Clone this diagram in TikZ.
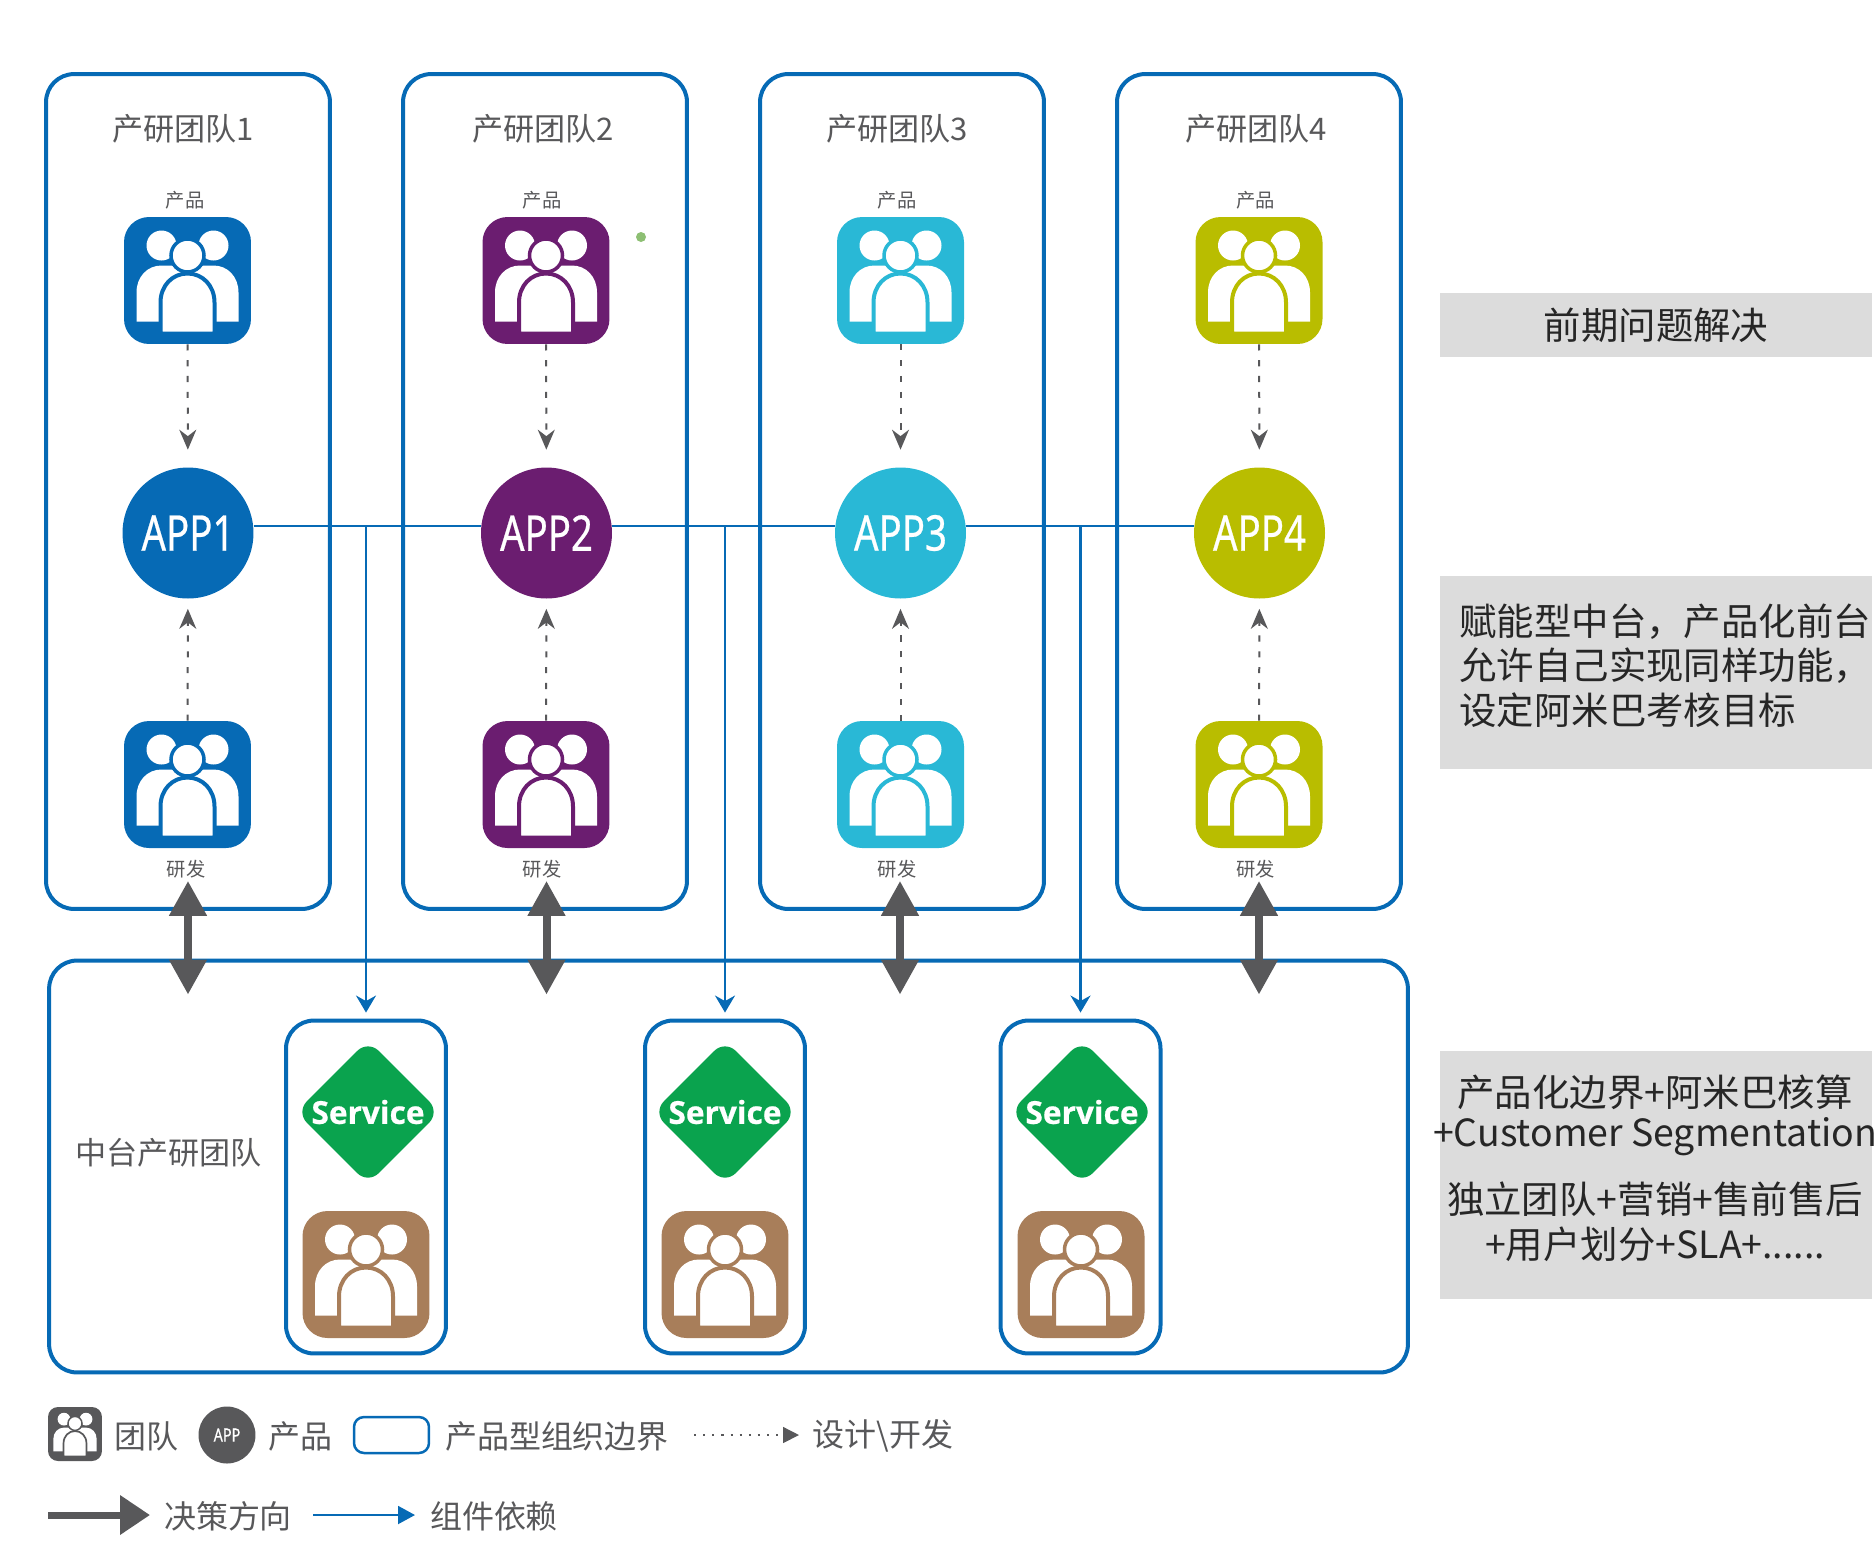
\documentclass[tikz,border=0pt]{standalone}
\usepackage{fontspec}
\setmainfont{Noto Sans CJK SC}
\newfontfamily\appfont[FakeStretch=0.78,FakeBold=0.5]{Noto Sans}
\newfontfamily\svcfont[BoldFeatures={FakeBold=0.6}]{Open Sans}
\definecolor{orgblue}{RGB}{6,106,181}
\definecolor{apppurple}{RGB}{107,29,112}
\definecolor{appteal}{RGB}{41,184,214}
\definecolor{applime}{RGB}{185,189,0}
\definecolor{svcbrown}{RGB}{168,126,90}
\definecolor{svcgreen}{RGB}{10,163,78}
\definecolor{inkgray}{RGB}{88,88,90}
\definecolor{notegray}{RGB}{220,220,220}
\definecolor{dotgreen}{RGB}{141,191,115}
\usetikzlibrary{positioning, arrows.meta, calc, shapes.geometric}
\newcommand{\teamfig}[2]{%
  \begin{scope}[shift={(path picture bounding box.center)}, x=#2, y=-#2, sharp corners]
    \fill[white] (-26,-35) ellipse (15 and 15) (26,-35) ellipse (15 and 15);
    \fill[white] (-51,41) -- (-51,12) .. controls (-51,-4) and (-40,-15) .. (-26,-15) -- (26,-15) .. controls (40,-15) and (51,-4) .. (51,12) -- (51,41) -- cycle;
    \draw[#1, fill=white, line width=3.5*#2] (0,-25) ellipse (16.5 and 16.5);
    \draw[#1, fill=white, line width=4*#2] (-27,53) -- (-27,22) .. controls (-27,5) and (-15,-7) .. (0,-7) .. controls (15,-7) and (27,5) .. (27,22) -- (27,53) -- cycle;
  \end{scope}}
\tikzset{
  teamicon/.style={rectangle, fill=#1, rounded corners=0.5cm, minimum size=2.54cm, inner sep=0, path picture={\teamfig{#1}{0.02cm}}},
  legendicon/.style={rectangle, fill=#1, rounded corners=0.2cm, minimum size=1.08cm, inner sep=0, path picture={\teamfig{#1}{0.0085cm}}},
  appdot/.style={circle, fill=#1, minimum size=2.62cm, inner sep=0, text=white, font=\appfont\fontsize{28}{30}\selectfont},
  orgbox/.style={rectangle, draw=orgblue, line width=0.08cm, rounded corners=0.56cm, inner sep=0},
  svcgem/.style={diamond, aspect=1, fill=svcgreen, rounded corners=0.3cm, minimum size=2.88cm, inner sep=0, text=white, font=\svcfont\bfseries\fontsize{18}{20}\selectfont},
  notebox/.style={rectangle, fill=notegray, minimum width=8.64cm, inner sep=0},
  notetext/.style={text=black!85, font=\fontsize{21.3}{26}\selectfont, inner sep=0},
  titletext/.style={text=inkgray, font=\fontsize{17.7}{21}\selectfont, inner sep=0},
  roletext/.style={text=inkgray, font=\fontsize{11}{13}\selectfont, inner sep=0},
  legendtext/.style={text=inkgray, font=\fontsize{18.2}{20}\selectfont, inner sep=0},
  designwire/.style={-{Stealth[length=0.4cm, width=0.34cm]}, inkgray, line width=0.04cm, dash pattern=on 3.5pt off 5.5pt},
  depwire/.style={-{Stealth[length=0.34cm, width=0.4cm]}, orgblue, line width=0.045cm},
  decidewire/.style={{Triangle[length=0.7cm, width=0.72cm]}-{Triangle[length=0.7cm, width=0.72cm]}, inkgray, line width=0.16cm}
}
\begin{document}
\begin{tikzpicture}[x=0.02cm, y=-0.02cm]
  \useasboundingbox (0,0) rectangle (1875,1566);
  % product teams
  \node[orgbox, minimum width=5.68cm, minimum height=16.7cm] (team1) at (188,491.5) {};
  \node[orgbox, minimum width=5.68cm, minimum height=16.7cm] (team2) at (545,491.5) {};
  \node[orgbox, minimum width=5.68cm, minimum height=16.7cm] (team3) at (902,491.5) {};
  \node[orgbox, minimum width=5.68cm, minimum height=16.7cm] (team4) at (1259,491.5) {};
  \node[titletext] (title1) at (183,129) {产研团队1};
  \node[titletext] (title2) at (543,129) {产研团队2};
  \node[titletext] (title3) at (897,129) {产研团队3};
  \node[titletext] (title4) at (1256,129) {产研团队4};
  \node[roletext] (prodlabel1) at (185,200) {产品};
  \node[roletext] (prodlabel2) at (542,200) {产品};
  \node[roletext] (prodlabel3) at (897,200) {产品};
  \node[roletext] (prodlabel4) at (1255.5,200) {产品};
  \node[teamicon=orgblue] (prod1) at (187.5,280.5) {};
  \node[teamicon=apppurple] (prod2) at (546,280.5) {};
  \node[teamicon=appteal] (prod3) at (900.5,280.5) {};
  \node[teamicon=applime] (prod4) at (1259,280.5) {};
  \node[appdot=orgblue] (app1) at (188,533) {APP1};
  \node[appdot=apppurple] (app2) at (546.5,533) {APP2};
  \node[appdot=appteal] (app3) at (900.5,533) {APP3};
  \node[appdot=applime] (app4) at (1259.5,533) {APP4};
  \node[teamicon=orgblue] (dev1) at (187.5,784.5) {};
  \node[teamicon=apppurple] (dev2) at (546,784.5) {};
  \node[teamicon=appteal] (dev3) at (900.5,784.5) {};
  \node[teamicon=applime] (dev4) at (1259,784.5) {};
  \node[roletext] (devlabel1) at (186,869) {研发};
  \node[roletext] (devlabel2) at (542,869) {研发};
  \node[roletext] (devlabel3) at (897,869) {研发};
  \node[roletext] (devlabel4) at (1255.5,869) {研发};
  \node[circle, fill=dotgreen, minimum size=0.2cm, inner sep=0] (greendot) at (641,237) {};
  \draw[designwire, shorten >=0.35cm] (prod1) -- (app1);
  \draw[designwire, shorten >=0.35cm] (prod2) -- (app2);
  \draw[designwire, shorten >=0.35cm] (prod3) -- (app3);
  \draw[designwire, shorten >=0.35cm] (prod4) -- (app4);
  \draw[designwire, shorten >=0.2cm] (dev1) -- (app1);
  \draw[designwire, shorten >=0.2cm] (dev2) -- (app2);
  \draw[designwire, shorten >=0.2cm] (dev3) -- (app3);
  \draw[designwire, shorten >=0.2cm] (dev4) -- (app4);
  % middle platform
  \node[orgbox, minimum width=27.18cm, minimum height=8.24cm] (platform) at (728.5,1166.5) {};
  \node[titletext] (platlabel) at (168.5,1153) {中台产研团队};
  \node[orgbox, minimum width=3.2cm, minimum height=6.66cm] (svcbox1) at (366,1187) {};
  \node[orgbox, minimum width=3.2cm, minimum height=6.66cm] (svcbox2) at (725,1187) {};
  \node[orgbox, minimum width=3.2cm, minimum height=6.66cm] (svcbox3) at (1080.5,1187) {};
  \node[svcgem] (svc1) at (368,1112) {Service};
  \node[svcgem] (svc2) at (725,1112) {Service};
  \node[svcgem] (svc3) at (1082,1112) {Service};
  \node[teamicon=svcbrown] (svcteam1) at (366,1274.5) {};
  \node[teamicon=svcbrown] (svcteam2) at (725,1274.5) {};
  \node[teamicon=svcbrown] (svcteam3) at (1081,1274.5) {};
  % dependency bus
  \draw[orgblue, line width=0.045cm] ($(app1.east)+(0,-7)$) -- ($(app2.west)+(0,-7)$);
  \draw[orgblue, line width=0.045cm] ($(app2.east)+(0,-7)$) -- ($(app3.west)+(0,-7)$);
  \draw[orgblue, line width=0.045cm] ($(app3.east)+(0,-7)$) -- ($(app4.west)+(0,-7)$);
  \coordinate (bus1) at (366,526);
  \coordinate (bus2) at (725,526);
  \coordinate (bus3) at (1080.5,526);
  \draw[depwire, shorten >=0.12cm] (bus1) -- (svcbox1.north);
  \draw[depwire, shorten >=0.12cm] (bus2) -- (svcbox2.north);
  \draw[depwire, shorten >=0.12cm] (bus3) -- (svcbox3.north);
  % decisions
  \draw[decidewire] ($(team1.south)+(0,-30)$) -- ($(platform.north -| team1.south)+(0,36)$);
  \draw[decidewire] ($(team2.south)+(1.5,-30)$) -- ($(platform.north -| team2.south)+(1.5,36)$);
  \draw[decidewire] ($(team3.south)+(-2,-30)$) -- ($(platform.north -| team3.south)+(-2,36)$);
  \draw[decidewire] ($(team4.south)+(0,-30)$) -- ($(platform.north -| team4.south)+(0,36)$);
  % notes on the right
  \node[notebox, minimum height=1.28cm] (note1) at (1656,325) {};
  \node[notebox, minimum height=3.88cm] (note2) at (1656,672.5) {};
  \node[notebox, minimum height=4.96cm] (note3) at (1656,1175) {};
  \node[notetext] (note1a) at (1656,325) {前期问题解决};
  \node[notetext, anchor=west] (note2a) at (1459,622) {赋能型中台，产品化前台};
  \node[notetext, anchor=west] (note2b) at (1459,666) {允许自己实现同样功能，};
  \node[notetext, anchor=west] (note2c) at (1459,710) {设定阿米巴考核目标};
  \node[notetext] (note3a) at (1655,1092) {产品化边界+阿米巴核算};
  \node[notetext] (note3b) at (1655,1137) {+Customer Segmentation};
  \node[notetext] (note3c) at (1655,1199) {独立团队+营销+售前售后};
  \node[notetext] (note3d) at (1655,1244) {+用户划分+SLA+......};
  % legend
  \node[legendicon=inkgray] (legteam) at (75,1434) {};
  \node[legendtext] (legteamtext) at (146.5,1436) {团队};
  \node[circle, fill=inkgray, minimum size=1.14cm, inner sep=0, text=white, font=\appfont\fontsize{10.5}{12}\selectfont] (legapp) at (227,1435) {APP};
  \node[legendtext] (legapptext) at (300,1436) {产品};
  \node[rectangle, draw=orgblue, line width=0.05cm, rounded corners=0.2cm, minimum width=1.5cm, minimum height=0.72cm] (legorg) at (391.5,1435) {};
  \node[legendtext] (legorgtext) at (557,1436) {产品型组织边界};
  \coordinate (legdesigna) at (694,1435);
  \coordinate (legdesignb) at (799,1435);
  \draw[-{Triangle[length=0.32cm, width=0.32cm]}, inkgray, line width=0.03cm, dash pattern=on 1.2pt off 4pt] (legdesigna) -- (legdesignb);
  \node[legendtext] (legdesigntext) at (883,1436) {设计\textbackslash 开发};
  \coordinate (legdecidea) at (48,1515);
  \coordinate (legdecideb) at (150,1515);
  \draw[-{Triangle[length=0.6cm, width=0.76cm]}, inkgray, line width=0.14cm] (legdecidea) -- (legdecideb);
  \node[legendtext] (legdecidetext) at (228,1516) {决策方向};
  \coordinate (legdepa) at (313,1515);
  \coordinate (legdepb) at (415,1515);
  \draw[-{Triangle[length=0.34cm, width=0.36cm]}, orgblue, line width=0.04cm] (legdepa) -- (legdepb);
  \node[legendtext] (legdeptext) at (494,1516) {组件依赖};
\end{tikzpicture}
\end{document}
